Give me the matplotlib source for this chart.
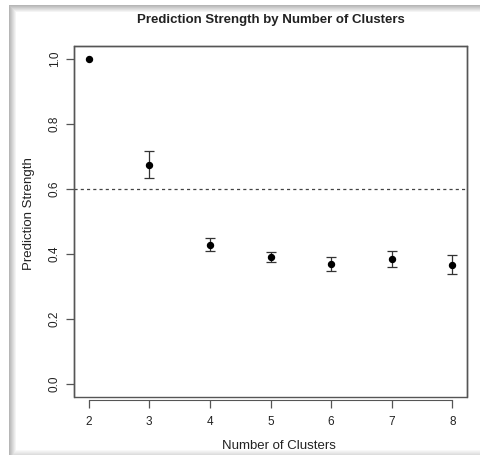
import matplotlib
matplotlib.use("Agg")
import matplotlib.pyplot as plt
from matplotlib.patches import Rectangle
import numpy as np

plt.rcParams['font.family'] = ['Liberation Sans', 'DejaVu Sans']

# Prediction strength per number of clusters, with lower/upper error limits
clusters = [2, 3, 4, 5, 6, 7, 8]
strength = [1.0, 0.675, 0.429, 0.391, 0.368, 0.385, 0.367]
lower = [1.0, 0.634, 0.410, 0.374, 0.347, 0.359, 0.338]
upper = [1.0, 0.716, 0.449, 0.407, 0.390, 0.410, 0.397]
threshold = 0.6
y_ticks = [0.0, 0.2, 0.4, 0.6, 0.8, 1.0]
y_tick_labels = ["0.0", "0.2", "0.4", "0.6", "0.8", "1.0"]

W, H = 480, 455
fig = plt.figure(figsize=(W / 100, H / 100), dpi=100)
fig.patch.set_facecolor("white")

# soft shadow frame around the plot window, rendered as a background image
shade = np.zeros((H, W))
cols = np.arange(W)
rows = np.arange(H)
left = np.clip(1 - (cols - 9) / 7, 0, 1) * (cols >= 9) * 0.55
top = np.clip(1 - (rows - 5) / 7, 0, 1) * (rows >= 5) * 0.55
bottom = np.clip((rows - 449) / 6, 0, 1) * 0.3
shade = np.maximum(shade, left[None, :] * (rows >= 5)[:, None])
shade = np.maximum(shade, top[:, None] * (cols >= 9)[None, :])
shade = np.maximum(shade, bottom[:, None] * (cols >= 9)[None, :])
rgb = 1 - shade[..., None] * (1 - 0.48)
rgb = np.repeat(rgb, 3, axis=2)
bg = fig.add_axes([0, 0, 1, 1], zorder=-1)
bg.imshow(rgb, aspect="auto", interpolation="nearest", extent=(0, W, H, 0))
bg.set_axis_off()

ax = fig.add_axes([74 / W, 58 / H, (467 - 74) / W, (397 - 46) / H])
ax.set_facecolor("none")
ax.set_xlim(1.76, 8.24)
ax.set_ylim(-0.04, 1.04)

x = np.array(clusters)
y = np.array(strength)
err = np.vstack([y - np.array(lower), np.array(upper) - y])
has_err = (err.sum(axis=0) > 0)
ax.errorbar(x[has_err], y[has_err], yerr=err[:, has_err], fmt='none',
            ecolor="#333333", elinewidth=0.9, capsize=3.5, capthick=0.9)
ax.plot(x, y, 'o', color="black", markersize=4.3)
ax.axhline(threshold, color="#444444", lw=0.9, ls=(0, (2.5, 2.5)))

# box drawn separately; x axis sits slightly below it
for s in ["top", "right", "left"]:
    ax.spines[s].set_color("#555555")
    ax.spines[s].set_linewidth(1.0)
ax.spines["bottom"].set_position(("outward", 2))
ax.spines["bottom"].set_bounds(2, 8)
ax.spines["bottom"].set_color("#555555")
ax.add_patch(Rectangle((0, 0), 1, 1, transform=ax.transAxes, fill=False,
                       edgecolor="#555555", lw=1.0, clip_on=False))

ax.set_xticks(clusters)
ax.set_xticklabels([str(c) for c in clusters], fontsize=8.5, color="#222222")
ax.set_yticks(y_ticks)
ax.set_yticklabels(y_tick_labels, fontsize=8.5, color="#222222",
                   rotation=90, va="center")
ax.tick_params(axis="both", direction="out", length=6, width=0.9, color="#555555")
ax.tick_params(axis="x", pad=5.5)
ax.tick_params(axis="y", pad=3.5)

fig.text(279 / W, 1 - 446 / H, "Number of Clusters", fontsize=9.5,
         color="#222222", ha="center", va="center")
fig.text(29 / W, 1 - 214 / H, "Prediction Strength", fontsize=9.5,
         color="#222222", ha="center", va="center", rotation=90)
fig.text(271 / W, 1 - 20 / H, "Prediction Strength by Number of Clusters",
         fontsize=9.5, fontweight="bold", color="#222222",
         ha="center", va="center")

fig.savefig("out.png", dpi=100, facecolor="white")
